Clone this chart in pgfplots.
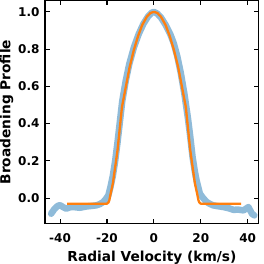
\documentclass[border=0pt]{standalone}
\usepackage{fontspec}
\setmainfont{DejaVu Sans}
\usepackage{pgfplots}
\pgfplotsset{compat=1.18}
\definecolor{obsblue}{RGB}{143,187,217}
\definecolor{fitorange}{RGB}{255,127,14}
\begin{document}
\begin{tikzpicture}[x=1pt,y=1pt]
\begin{axis}[
  scale only axis,
  width=213pt, height=222pt,
  xmin=-46.4, xmax=44.7,
  ymin=-0.136, ymax=1.06,
  xtick={-40,-20,0,20,40},
  ytick={0,0.2,0.4,0.6,0.8,1.0},
  yticklabel style={/pgf/number format/fixed,/pgf/number format/fixed zerofill,/pgf/number format/precision=1},
  /pgf/number format/assume math mode=true,
  tick label style={font=\bfseries\fontsize{12}{14}\selectfont},
  label style={font=\bfseries\fontsize{13.7}{16}\selectfont},
  xlabel={Radial Velocity (km/s)},
  ylabel={Broadening Profile},
  tick align=inside,
  tick pos=both,
  major tick length=4.5pt,
  every tick/.style={black, line width=1.1pt},
  axis line style={line width=1.4pt},
  xticklabel style={anchor=base, inner sep=0pt, yshift=-19pt},
  yticklabel style={anchor=east, inner sep=0pt, xshift=-5.3pt},
  xlabel style={at={(axis description cs:0.5,0)}, anchor=base, inner sep=0pt, yshift=-37.5pt},
  ylabel style={at={(axis description cs:0,0.5)}, anchor=base, inner sep=0pt, yshift=34.5pt},
]
\addplot[obsblue, line width=6.5pt, line join=round, line cap=round] coordinates {
(-43.8,-0.084) (-42.5,-0.060) (-41,-0.042) (-40,-0.038) (-38.5,-0.050) (-37.3,-0.057)
(-36,-0.050) (-34.5,-0.048) (-33,-0.050) (-31.6,-0.052) (-30,-0.048) (-28.8,-0.045)
(-26.5,-0.042) (-24.5,-0.039) (-23,-0.032) (-21.6,-0.021) (-20.5,-0.005) (-19.4,0.015)
(-18.5,0.060) (-17.5,0.120) (-16.5,0.200) (-15.5,0.300) (-14.5,0.410) (-13.5,0.520)
(-12,0.630) (-10.5,0.720) (-8.5,0.810) (-6.5,0.880) (-4.5,0.935) (-2.5,0.975)
(-1,0.995) (0,1.000) (1.5,0.990) (3,0.970) (5,0.930) (7,0.880) (8.5,0.830)
(10,0.760) (11.5,0.670) (13,0.560) (14.5,0.430) (15.5,0.330) (16.5,0.220)
(17.5,0.140) (18.2,0.095) (19.6,0.024) (21,0.000) (22.5,-0.021) (24,-0.032)
(25.3,-0.039) (27.5,-0.044) (29.6,-0.048) (32,-0.055) (33.9,-0.063) (36,-0.062)
(38.2,-0.066) (39.5,-0.055) (40.3,-0.048) (41.8,-0.084) (42.8,-0.093)
};
\addplot[fitorange, line width=2.3pt, line join=round] coordinates {
(-37,-0.030) (-20,-0.030) (-19.4,-0.024) (-19,-0.012) (-18.5,0.020) (-17.5,0.078)
(-16.5,0.167) (-15.5,0.257) (-14.5,0.380) (-13.6,0.490) (-12,0.595) (-10.3,0.706)
(-8.5,0.797) (-6.8,0.868) (-5,0.929) (-3,0.974) (-1.5,0.994) (0,1.000)
(1.5,0.994) (3,0.974) (5,0.929) (6.8,0.868) (8.5,0.797) (10.3,0.706) (12,0.595)
(13.6,0.490) (14.5,0.380) (15.5,0.257) (16.5,0.167) (17.5,0.078) (18.5,0.020)
(19,-0.012) (19.4,-0.024) (20,-0.030) (37.2,-0.030)
};
\end{axis}
\path ([xshift=5pt,yshift=0.5pt]current axis.north east);
\end{tikzpicture}
\end{document}
